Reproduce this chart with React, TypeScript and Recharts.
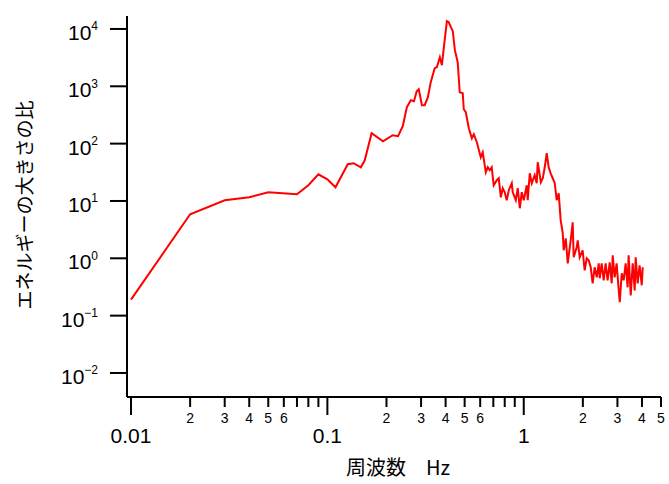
import React from 'react';
import { LineChart, Line, XAxis, YAxis } from 'recharts';

const freqs = [
  0.01, 0.02, 0.03, 0.04, 0.05, 0.07, 0.08, 0.09, 0.1, 0.11,
  0.127, 0.136, 0.148, 0.155, 0.168, 0.192, 0.215, 0.229, 0.242, 0.254,
  0.266, 0.276, 0.285, 0.292, 0.303, 0.313, 0.325, 0.336, 0.352, 0.361,
  0.374, 0.383, 0.392, 0.406, 0.415, 0.435, 0.446, 0.461, 0.472, 0.489,
  0.495, 0.507, 0.525, 0.544, 0.557, 0.577, 0.604, 0.618, 0.641, 0.656,
  0.671, 0.687, 0.703, 0.729, 0.746, 0.764, 0.782, 0.8, 0.819, 0.839,
  0.869, 0.879, 0.911, 0.932, 0.955, 0.977, 1.0, 1.036, 1.048, 1.073,
  1.099, 1.137, 1.164, 1.178, 1.222, 1.25, 1.279, 1.309, 1.34, 1.371,
  1.405, 1.438, 1.472, 1.507, 1.542, 1.578, 1.598, 1.636, 1.675, 1.734,
  1.775, 1.796, 1.861, 1.883, 1.927, 1.995, 2.043, 2.093, 2.142, 2.193,
  2.244, 2.297, 2.354, 2.409, 2.437, 2.494, 2.553, 2.612, 2.673, 2.739,
  2.805, 2.838, 2.904, 2.972, 3.041, 3.083, 3.155, 3.228, 3.303, 3.381,
  3.42, 3.506, 3.589, 3.673, 3.715, 3.802, 3.89, 3.99, 4.036,
];

const ratios = [
  0.19, 5.86, 10.3, 11.6, 14.2, 13.1, 18.8, 29.2, 23.9, 17.3,
  43.7, 45.5, 38.7, 51.3, 152, 110, 140, 135, 201, 432,
  572, 550, 821, 890, 468, 468, 645, 1180, 2070, 2150,
  3220, 2340, 4810, 13700, 13100, 9150, 4270, 2630, 789, 758,
  398, 353, 186, 124, 146, 106, 57.9, 70.8, 31.7, 38.7,
  34.3, 38.7, 18.8, 23.0, 24.9, 11.6, 16.7, 14.2, 10.3, 15.4,
  20.4, 14.2, 10.3, 16.7, 7.46, 14.2, 10.3, 18.8, 10.3, 30.4,
  20.4, 28.1, 20.4, 47.4, 21.2, 24.9, 38.7, 68.0, 38.7, 30.4,
  24.9, 20.4, 10.3, 13.6, 4.6, 2.84, 1.38, 2.23, 0.818, 2.06,
  4.25, 1.04, 1.56, 2.06, 1.04, 1.38, 0.617, 1.0, 0.923, 0.697,
  0.366, 0.697, 0.466, 0.818, 0.448, 0.818, 0.413, 0.818, 0.413, 0.851,
  0.366, 1.13, 0.466, 0.818, 0.299, 0.171, 0.547, 0.413, 0.818, 0.312,
  1.13, 0.226, 0.818, 0.276, 1.04, 0.366, 0.755, 0.338, 0.697,
];

const yTicks = [0.01, 0.1, 1, 10, 100, 1000, 10000];
const yTickExponents = ['\u22122', '\u22121', '0', '1', '2', '3', '4'];

const xTicks = [
  0.01, 0.02, 0.03, 0.04, 0.05, 0.06, 0.07, 0.08, 0.09,
  0.1, 0.2, 0.3, 0.4, 0.5, 0.6, 0.7, 0.8, 0.9,
  1, 2, 3, 4, 5,
];
const xTickLabels = [
  '0.01', '2', '3', '4', '5', '6', '', '', '',
  '0.1', '2', '3', '4', '5', '6', '', '', '',
  '1', '2', '3', '4', '5',
];
const xMajorTicks = [0.01, 0.1, 1];

const xDomain = [0.00954, 5];
const yDomain = [0.00381, 16830];

const xTitle = '周波数\u3000Hz';
const yTitle = 'エネルギーの大きさの比';

const data = freqs.map((f, i) => ({ f, v: ratios[i] }));

const numFont = "'Liberation Sans Narrow', 'Liberation Sans', Arial, sans-serif";
const jpFont = "'Noto Sans CJK JP', sans-serif";

const near = (a: number, b: number) => Math.abs(a - b) / b < 1e-6;

const XTick = (props: any) => {
  const { x, y, payload } = props;
  const i = xTicks.findIndex((t) => near(payload.value, t));
  const major = xMajorTicks.some((t) => near(payload.value, t));
  const label = i >= 0 ? xTickLabels[i] : '';
  return (
    <g>
      <line x1={x} y1={y} x2={x} y2={y + (major ? 18 : 10)} stroke="#000" strokeWidth={2} />
      {label !== '' && (
        major ? (
          <text x={x} y={y + 46} textAnchor="middle" fontFamily={numFont} fontSize={21} fill="#000">
            {label}
          </text>
        ) : (
          <text x={x} y={y + 26} textAnchor="middle" fontFamily="'Liberation Sans', Arial, sans-serif" fontSize={14} fill="#000">
            {label}
          </text>
        )
      )}
    </g>
  );
};

const YTick = (props: any) => {
  const { x, y, payload } = props;
  const i = yTicks.findIndex((t) => near(payload.value, t));
  return (
    <g>
      <line x1={x - 17} y1={y} x2={x} y2={y} stroke="#000" strokeWidth={2} />
      <text x={x - 29} y={y + 11} textAnchor="end" fontFamily={numFont} fontSize={21} fill="#000">
        10
        <tspan dy={-9.5} fontSize={12}>{i >= 0 ? yTickExponents[i] : ''}</tspan>
      </text>
    </g>
  );
};

const XTitle = () => (
  <text x={398} y={466} textAnchor="middle" dominantBaseline="central" fontFamily={jpFont} fontSize={20} fill="#000">
    {xTitle}
  </text>
);

const YTitle = () => (
  <text
    x={23}
    y={205}
    transform="rotate(-90 23 205)"
    textAnchor="middle"
    dominantBaseline="central"
    fontFamily={jpFont}
    fontSize={19}
    fill="#000"
  >
    {yTitle}
  </text>
);

export default function App() {
  return (
    <div style={{ position: 'absolute', left: 0, top: 0, width: 669, height: 484, background: '#fff' }}>
      <LineChart width={669} height={484} data={data} margin={{ top: 16, right: 8, bottom: 0, left: 0 }}>
        <XAxis
          dataKey="f"
          type="number"
          scale="log"
          domain={xDomain}
          allowDataOverflow
          ticks={xTicks}
          interval={0}
          tickSize={0}
          tickMargin={0}
          tick={<XTick />}
          height={87}
          axisLine={{ stroke: '#000', strokeWidth: 2 }}
          tickLine={false}
          label={<XTitle />}
        />
        <YAxis
          dataKey="v"
          type="number"
          scale="log"
          domain={yDomain}
          allowDataOverflow
          ticks={yTicks}
          interval={0}
          tickSize={0}
          tickMargin={0}
          tick={<YTick />}
          width={127}
          axisLine={{ stroke: '#000', strokeWidth: 2 }}
          tickLine={false}
          label={<YTitle />}
        />
        <Line
          type="linear"
          dataKey="v"
          stroke="#ff0000"
          strokeWidth={2}
          dot={false}
          isAnimationActive={false}
        />
      </LineChart>
    </div>
  );
}
